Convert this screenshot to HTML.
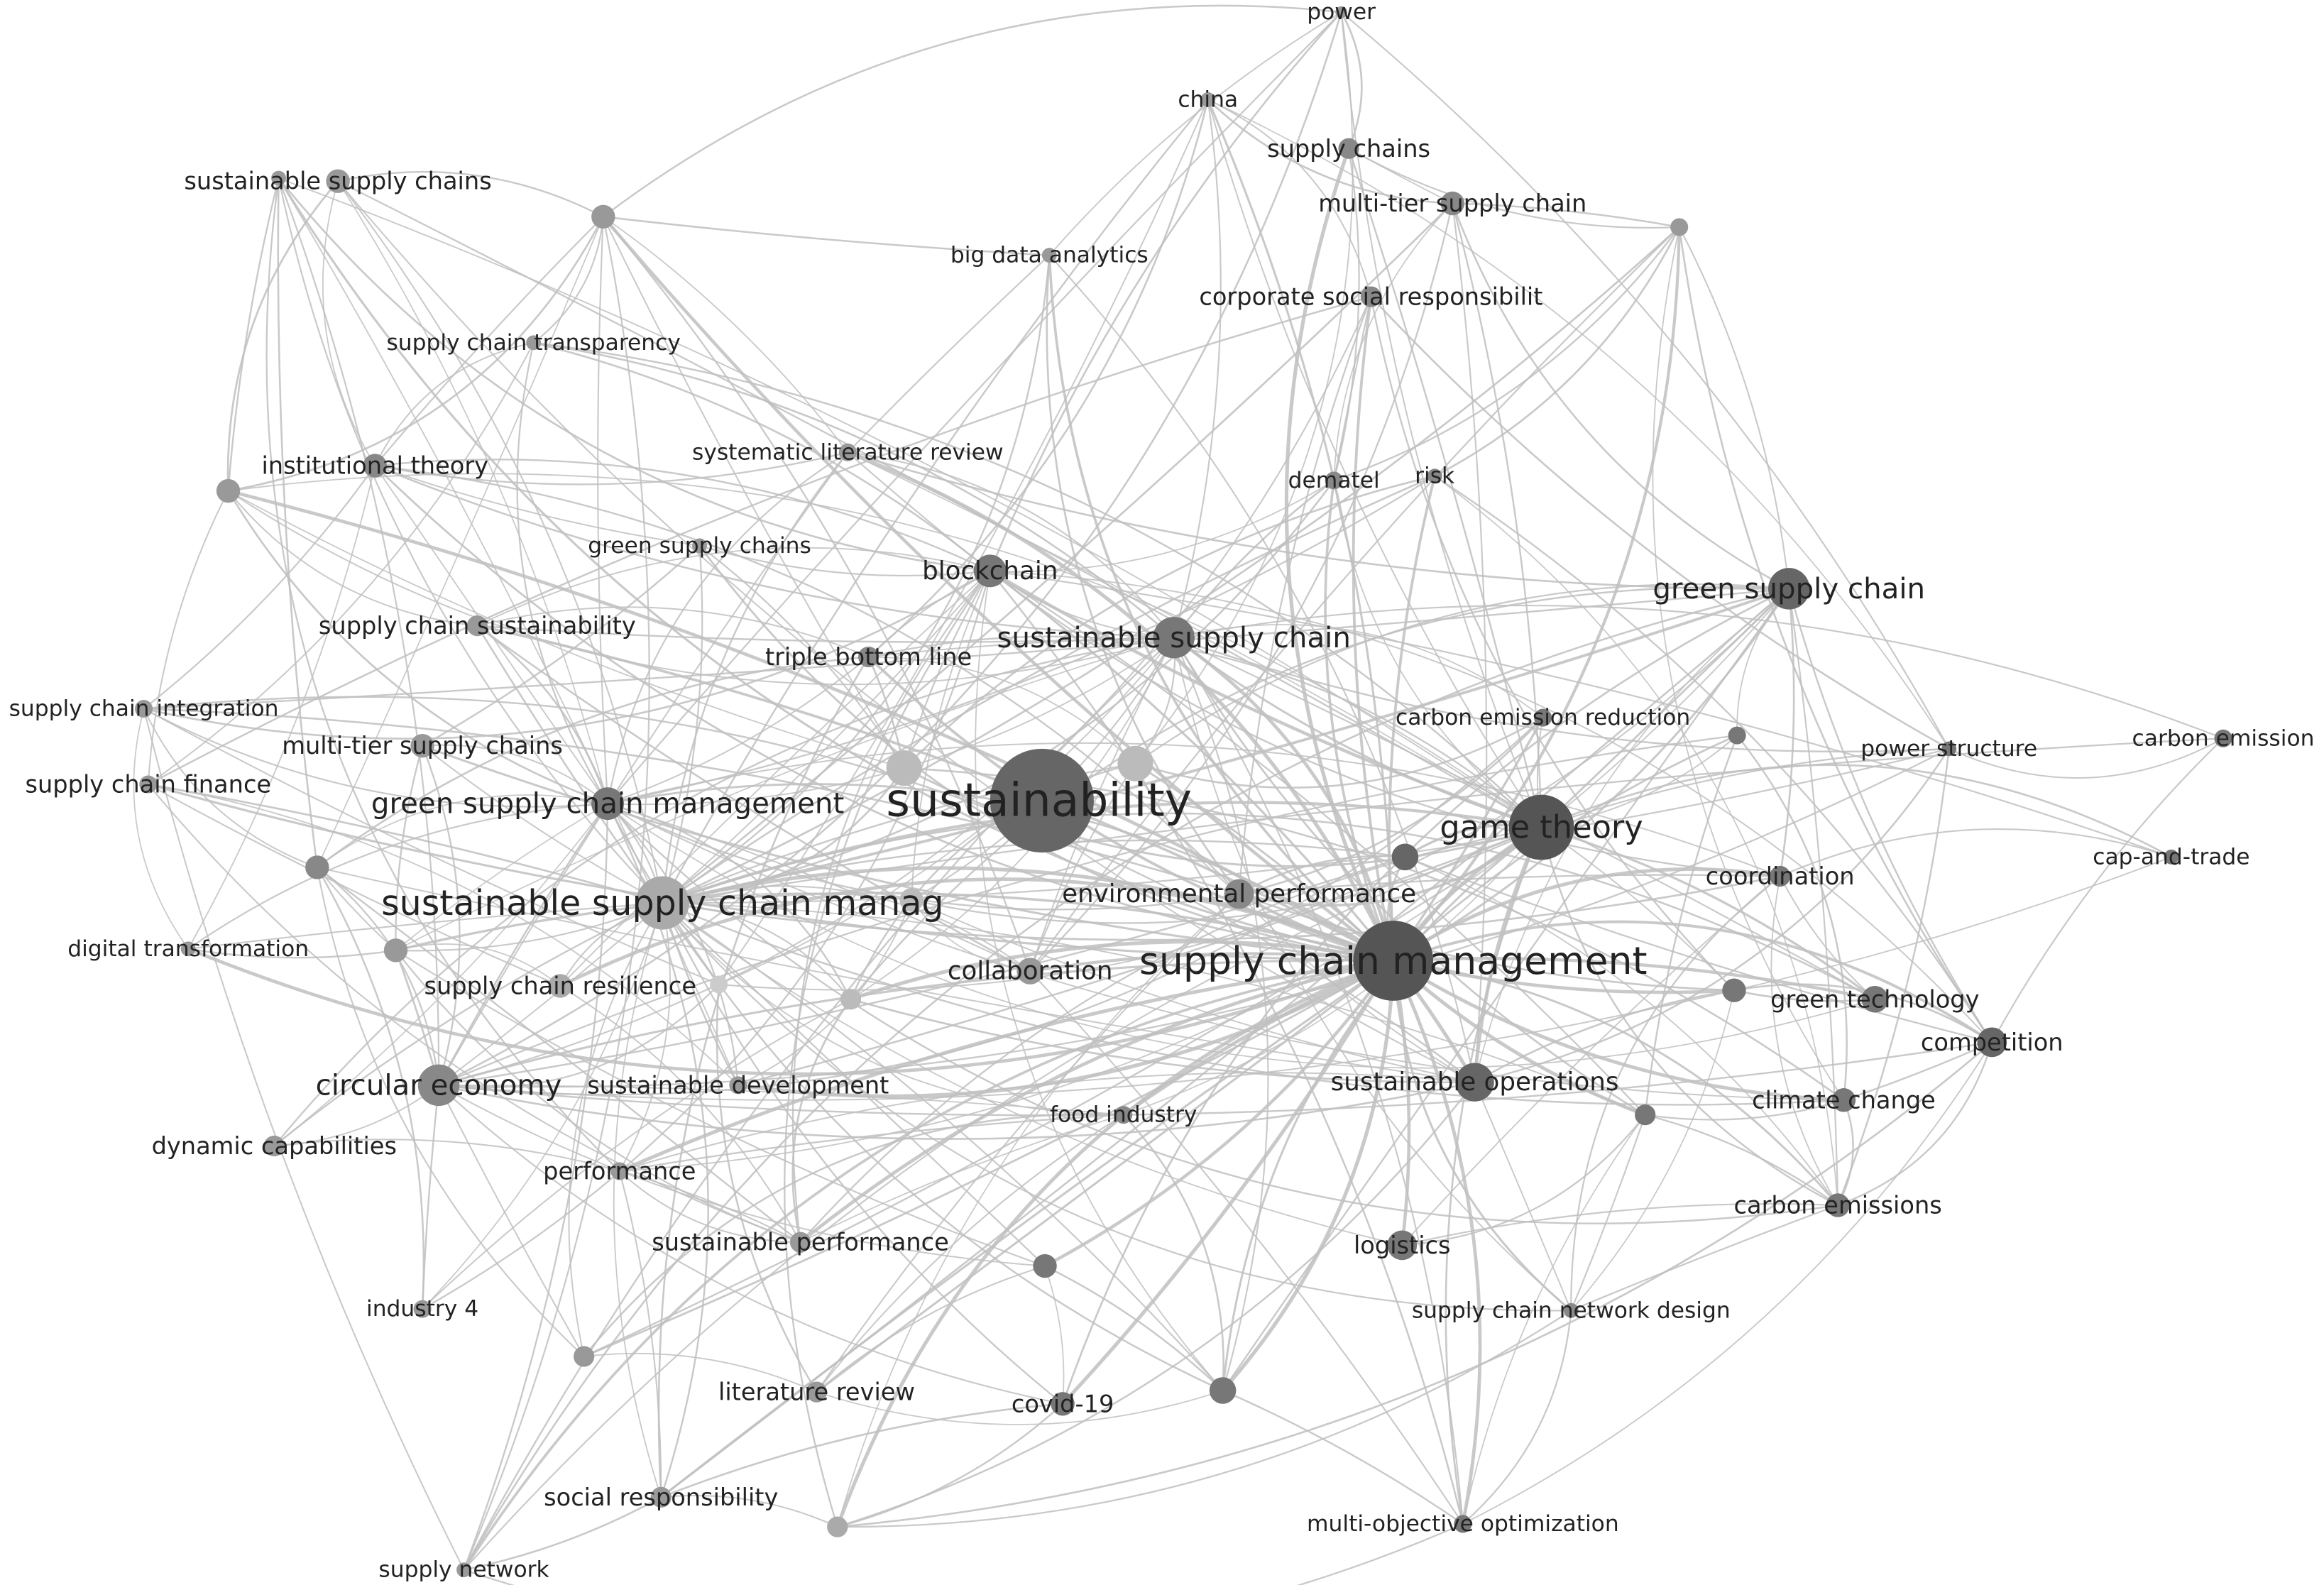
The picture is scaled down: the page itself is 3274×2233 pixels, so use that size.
<!DOCTYPE html>
<html><head><meta charset="utf-8"><style>
html,body{margin:0;padding:0;background:#fff;}
svg{display:block;}
text{font-family:"DejaVu Sans","Liberation Sans",sans-serif;fill:#222;text-anchor:middle;dominant-baseline:central;}
</style></head><body>
<svg id="s" width="3274" height="2233" viewBox="0 0 1568 1069" xmlns="http://www.w3.org/2000/svg">
<rect width="1568" height="1069" fill="#fff"/>
<g id="e" fill="none"></g><g id="n"></g><g id="t"></g>
</svg>
<script>
var N=[
["power",905,8,4,14,"#999"],["china",815,67,5,14,"#999"],["supply chains",910,100,7,15,"#888"],
["multi-tier supply chain",980,137,8,15,"#888"],["big data analytics",708,172,5,14,"#999"],
["corporate social responsibilit",925,200,7,15,"#888"],["sustainable supply chains",228,122,8,15,"#999"],
["",188,120,5,0,"#999"],["",407,146,8,0,"#999"],["",1133,153,6,0,"#999"],
["supply chain transparency",360,231,5,14,"#999"],["institutional theory",253,314,8,15,"#888"],
["",154,331,8,0,"#999"],["systematic literature review",572,305,6,14,"#999"],
["dematel",900,324,6,14,"#888"],["risk",968,321,5,14,"#888"],["green supply chains",472,368,5,14,"#999"],
["blockchain",668,385,11,16,"#777"],["green supply chain",1207,397,14,18,"#666"],
["supply chain sustainability",322,422,7,15,"#999"],["sustainable supply chain",792,430,14,18,"#777"],
["triple bottom line",586,443,7,15,"#888"],["supply chain integration",97,478,6,14,"#999"],
["carbon emission reduction",1041,484,6,14,"#777"],["",1172,496,6,0,"#777"],
["power structure",1315,505,5,14,"#777"],["carbon emission",1500,498,6,14,"#777"],
["multi-tier supply chains",285,503,8,15,"#999"],["supply chain finance",100,529,6,15,"#999"],
["",610,518,12,0,"#bbb"],["",766,515,12,0,"#bbb"],
["green supply chain management",410,542,11,18,"#777"],["game theory",1040,558,22,20,"#555"],
["",948,578,9,0,"#666"],["cap-and-trade",1465,578,5,14,"#777"],["",214,585,8,0,"#888"],
["sustainable supply chain manag",447,609,18,22,"#aaa"],["",615,607,8,0,"#bbb"],
["environmental performance",836,603,10,16,"#888"],["coordination",1201,591,7,15,"#777"],
["digital transformation",127,640,5,14,"#999"],["",267,641,8,0,"#999"],
["supply chain management",940,648,27,24,"#555"],["collaboration",695,655,9,16,"#999"],
["supply chain resilience",378,665,8,15,"#aaa"],["",485,664,6,0,"#ccc"],["",574,674,7,0,"#bbb"],
["",1170,668,8,0,"#777"],["green technology",1265,674,9,15,"#777"],["competition",1344,703,10,15,"#666"],
["circular economy",296,732,14,18,"#888"],["sustainable development",498,732,6,15,"#999"],
["sustainable operations",995,730,13,16,"#666"],["climate change",1244,742,8,15,"#777"],
["",1110,752,7,0,"#777"],["food industry",758,752,6,14,"#888"],["dynamic capabilities",185,773,7,15,"#999"],
["performance",418,790,6,15,"#999"],["carbon emissions",1240,813,8,15,"#777"],
["sustainable performance",540,838,7,15,"#999"],["logistics",946,840,10,15,"#777"],
["",705,854,8,0,"#777"],["industry 4",285,883,6,14,"#999"],["supply chain network design",1060,884,5,14,"#888"],
["",394,915,7,0,"#999"],["literature review",551,939,7,15,"#999"],["covid-19",717,947,8,15,"#777"],
["",825,938,9,0,"#777"],["social responsibility",446,1010,7,15,"#999"],["",565,1030,7,0,"#aaa"],
["multi-objective optimization",987,1028,6,14,"#777"],["supply network",313,1059,5,14,"#999"]
];
var seed=7;function R(){seed=(seed*16807)%2147483647;return seed/2147483647;}
var hubs=[42,36,32,31,20,18,50,17,52,38,43,8,12,11];
var E=[],have={};
function add(a,b){if(a==b)return;var k=a<b?a+"_"+b:b+"_"+a;if(have[k])return;have[k]=1;E.push([a,b]);}
for(var i=0;i<N.length;i++){
 var nh=3+Math.floor(R()*4);
 for(var j=0;j<nh;j++)add(i,hubs[Math.floor(R()*R()*hubs.length)]);
 var nr=2+Math.floor(R()*3);
 for(var j=0;j<nr;j++){
  var best=-1,bd=1e9;for(var k=0;k<6;k++){var c=Math.floor(R()*N.length);var d=Math.hypot(N[c][1]-N[i][1],N[c][2]-N[i][2])*(0.5+R());if(d<bd){bd=d;best=c;}}
  add(i,best);
 }
}
[[32,42],[36,42],[32,18],[42,20],[36,31],[42,50],[18,9],[1,3],[0,2],[1,5],[6,12],[7,12],[8,11]].forEach(function(p){add(p[0],p[1]);});
var eg=document.getElementById("e"),h="";
E.forEach(function(p){
 var a=N[p[0]],b=N[p[1]];var dx=b[1]-a[1],dy=b[2]-a[2];var L=Math.hypot(dx,dy);
 var o=(R()-0.5)*0.5*L;var mx=(a[1]+b[1])/2-dy/L*o,my=(a[2]+b[2])/2+dx/L*o;
 var w=(a[3]+b[3]>30)?1.3+R()*1.2:0.8+R()*0.5;
 h+='<path d="M'+a[1]+' '+a[2]+' Q'+mx.toFixed(1)+' '+my.toFixed(1)+' '+b[1]+' '+b[2]+'" stroke="#c0c0c0" stroke-width="'+w.toFixed(2)+'" stroke-opacity="0.85"/>';
});
eg.innerHTML=h;
var nh2="",th="";
N.forEach(function(n){
 nh2+='<circle cx="'+n[1]+'" cy="'+n[2]+'" r="'+n[3]+'" fill="'+n[5]+'"/>';
 if(n[0])th+='<text x="'+n[1]+'" y="'+n[2]+'" font-size="'+(n[4]*1.07).toFixed(1)+'">'+n[0]+'</text>';
});
document.getElementById("n").innerHTML=nh2+'<circle cx="703" cy="540" r="35" fill="#666"/>';
document.getElementById("t").innerHTML=th+'<text x="701" y="540" font-size="31">sustainability</text>';
</script>
</body></html>
